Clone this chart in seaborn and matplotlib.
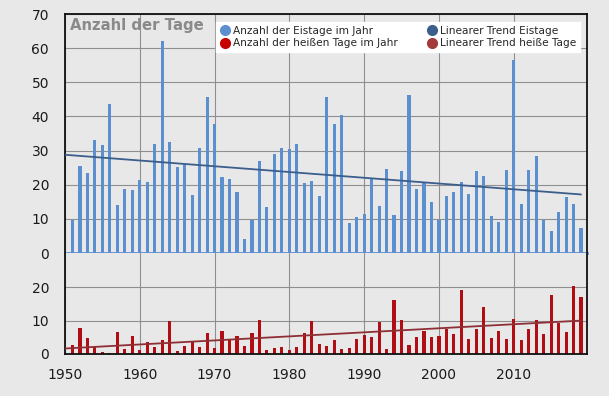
import numpy as np
import pandas as pd
import matplotlib
matplotlib.use('Agg')
import matplotlib.pyplot as plt
import seaborn as sns
from matplotlib.lines import Line2D

#%% datos
jahre = list(range(1951, 2020))

eistage = [9.6, 25.5, 23.3, 33.0, 31.7, 43.6, 14.1, 18.8, 18.4, 21.4,
           20.7, 32.0, 62.1, 32.5, 25.2, 26.0, 17.0, 30.7, 45.8, 37.7,
           22.4, 21.7, 17.8, 4.1, 9.6, 27.0, 13.4, 29.1, 30.8, 30.5,
           31.8, 20.4, 21.2, 16.8, 45.8, 37.7, 40.4, 8.8, 10.6, 11.4,
           21.6, 13.7, 24.5, 11.1, 24.1, 46.3, 18.8, 20.4, 14.9, 9.8,
           16.7, 17.8, 20.8, 17.2, 24.1, 22.5, 10.7, 9.0, 24.2, 56.6,
           14.3, 24.2, 28.4, 9.8, 6.5, 11.9, 16.4, 14.5, 7.4]

heisse_tage = [2.6, 7.8, 4.9, 2.0, 0.5, 0.3, 6.7, 1.4, 5.4, 1.3,
               3.7, 2.1, 4.3, 9.9, 1.0, 2.3, 3.7, 2.2, 6.4, 1.7,
               7.0, 4.5, 5.5, 2.5, 6.4, 10.1, 1.1, 1.7, 2.0, 1.3,
               2.0, 6.2, 9.9, 3.0, 2.4, 4.1, 1.4, 1.9, 4.6, 5.7,
               5.0, 9.5, 1.6, 16.2, 10.3, 2.6, 5.0, 7.0, 5.1, 5.5,
               7.5, 6.0, 19.0, 4.6, 7.4, 14.2, 4.7, 7.0, 4.5, 10.4,
               4.1, 7.5, 10.3, 5.9, 17.5, 9.2, 6.7, 20.4, 17.0]

etiquetas_x = ['1950', '1960', '1970', '1980', '1990', '2000', '2010', '']
ticks_x = [1950, 1960, 1970, 1980, 1990, 2000, 2010, 2019.8]

leyenda = ['Anzahl der Eistage im Jahr', 'Anzahl der heißen Tage im Jahr',
           'Linearer Trend Eistage', 'Linearer Trend heiße Tage']

#%% colores
azul = '#5b8fd0'
azul_trend = '#3b5e8c'
rojo = '#b00d15'
rojo_trend = '#8e2f35'
fondo = '#e8e8e8'
rejilla = '#8f8f8f'

df = pd.DataFrame({'Jahr': jahre, 'Eistage': eistage, 'Heiss': heisse_tage})

# tendencia lineal
x_trend = np.array([1950, 2019])
p_eis = np.polyfit(df['Jahr'], df['Eistage'], 1)
p_heiss = np.polyfit(df['Jahr'], df['Heiss'], 1)
trend = pd.DataFrame({'Jahr': x_trend,
                      'Eis': np.polyval(p_eis, x_trend),
                      'Heiss': np.polyval(p_heiss, x_trend)})

#%% grafico
sns.set_style('white')
plt.rcParams['font.family'] = ['DejaVu Sans']

fig = plt.figure(figsize=(6.09, 3.96), dpi=100, facecolor=fondo)
ax1 = fig.add_axes([0.1067, 0.3611, 0.8572, 0.6035])
ax2 = fig.add_axes([0.1067, 0.1061, 0.8572, 0.2550])

for ax in (ax1, ax2):
    ax.set_facecolor(fondo)
    ax.set_axisbelow(True)
    for s in ax.spines.values():
        s.set_color('#111111')
        s.set_linewidth(1.3)
    ax.set_xlim(1950, 2019.8)
    ax.set_xticks(ticks_x)
    ax.tick_params(axis='both', direction='out', length=4, width=1.2,
                   labelsize=10, colors='#1a1a1a')
    ax.tick_params(axis='y', pad=7.5)
    ax.tick_params(axis='x', pad=6)

sns.barplot(data=df, x='Jahr', y='Eistage', native_scale=True, width=0.42,
            color=azul, saturation=1, linewidth=0, zorder=2, ax=ax1)
sns.lineplot(data=trend, x='Jahr', y='Eis', color=azul_trend, linewidth=1.3,
             zorder=3, ax=ax1)
ax1.set_ylim(0, 70)
ax1.set_yticks(range(0, 71, 10))
ax1.set_xticks(ticks_x[:-1])
ax1.set_xticklabels([])
ax1.tick_params(axis='x', length=0)
ax1.set_xlabel('')
ax1.set_ylabel('')
ax1.spines['bottom'].set_color(azul)
ax1.spines['bottom'].set_linewidth(2)

sns.barplot(data=df, x='Jahr', y='Heiss', native_scale=True, width=0.42,
            color=rojo, saturation=1, linewidth=0, zorder=2, ax=ax2)
sns.lineplot(data=trend, x='Jahr', y='Heiss', color=rojo_trend, linewidth=1.3,
             zorder=3, ax=ax2)
ax2.set_ylim(0, 30.2)
ax2.set_yticks([0, 10, 20])
ax2.set_xticks(ticks_x)
ax2.set_xticklabels(etiquetas_x)
ax2.set_xlabel('')
ax2.set_ylabel('')
ax2.spines['top'].set_visible(False)

for ax in (ax1, ax2):
    ax.grid(True, color=rejilla, linewidth=0.8, zorder=0)
    ax.set_xlim(1950, 2019.8)

ax1.text(0.01, 0.985, 'Anzahl der Tage', transform=ax1.transAxes,
         fontsize=10.7, fontweight='bold', color='#8a8a8a', va='top', ha='left')

handles = [Line2D([], [], marker='o', linestyle='', color=c, markersize=7)
           for c in (azul, '#c80000', azul_trend, '#a33a3a')]
leg = ax1.legend(handles, leyenda, ncol=2, loc='upper right',
                 bbox_to_anchor=(0.99, 0.975), fontsize=7.6, frameon=True,
                 fancybox=False, edgecolor='white', framealpha=1,
                 handletextpad=0.3, columnspacing=2.8, borderpad=0.35,
                 labelspacing=0.25, handlelength=0.9, borderaxespad=0.2)
leg.set_zorder(5)

fig.savefig('out.png', dpi=100, facecolor=fondo)
